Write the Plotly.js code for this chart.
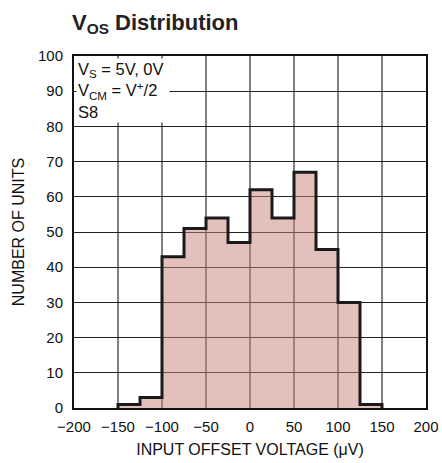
<!DOCTYPE html>
<html><head><meta charset="utf-8">
<script src="https://cdn.plot.ly/plotly-3.0.1.min.js"></script>
<style>body{margin:0;background:#fff}#c{width:442px;height:463px}</style>
</head><body><div id="c"></div>
<script>
var binLeft = [-150,-125,-100,-75,-50,-25,0,25,50,75,100,125];
var binWidth = 25;
var counts = [1,3,43,51,54,47,62,54,67,45,30,1];
var xTicks = [-200,-150,-100,-50,0,50,100,150,200];
var xTickText = ['\u2212200','\u2212150','\u2212100','\u221250','0','50','100','150','200'];
var yTicks = [0,10,20,30,40,50,60,70,80,90,100];

var F = '"Liberation Sans Narrow", "Liberation Sans", Arial, sans-serif';

// step outline
var sx = [binLeft[0]], sy = [0];
for (var i = 0; i < binLeft.length; i++) { sx.push(binLeft[i]); sy.push(counts[i]); }
var lastEdge = binLeft[binLeft.length-1] + binWidth;
sx.push(lastEdge); sy.push(counts[counts.length-1]);
sx.push(lastEdge); sy.push(0);

var data = [
  {type:'bar', x: binLeft, y: counts, width: binWidth, offset: 0,
   marker:{color:'rgba(200,130,120,0.5)', line:{width:0}}, hoverinfo:'skip'},
  {type:'scatter', mode:'lines', x: sx, y: sy, line:{shape:'hv', color:'#1a1a1a', width:3}, hoverinfo:'skip'}
];

var layout = {
  width:442, height:463, showlegend:false,
  paper_bgcolor:'#fff', plot_bgcolor:'#fff',
  margin:{l:74, r:16, t:56, b:55},
  font:{family:F, color:'#111', size:15},
  title:{text:'<b>V<sub>OS</sub> Distribution</b>', font:{family:F, size:22, color:'#222'},
         x:72/442, xref:'container', xanchor:'left', y:1-22/463, yref:'container', yanchor:'middle'},
  xaxis:{range:[-200,200], tickvals:xTicks, ticktext:xTickText, showgrid:true, gridcolor:'#808080', gridwidth:1.3,
         zeroline:false, showline:true, mirror:true, linecolor:'#111', linewidth:2, ticks:'', ticklen:0,
         ticklabelstandoff:4,
         title:{text:'INPUT OFFSET VOLTAGE (\u03bcV)', font:{size:16}, standoff:10}, tickfont:{size:15}},
  yaxis:{range:[0,100], tickvals:yTicks, showgrid:true, gridcolor:'#222', gridwidth:1,
         zeroline:false, showline:true, mirror:true, linecolor:'#111', linewidth:2, ticks:'',
         ticklabelstandoff:6,
         title:{text:'NUMBER OF UNITS', font:{size:16}, standoff:9}, tickfont:{size:15}},
  bargap:0,
  annotations:[{xref:'paper', yref:'paper', x:0.006, y:0.994, xanchor:'left', yanchor:'top', align:'left',
    showarrow:false, bgcolor:'#fff', borderpad:1, width:90,
    text:'V<sub>S</sub> = 5V, 0V<br>V<sub>CM</sub> = V<sup>+</sup>/2<br>S8', font:{size:16.5, family:F}}]
};
Plotly.newPlot('c', data, layout, {displayModeBar:false, staticPlot:true});
</script></body></html>
